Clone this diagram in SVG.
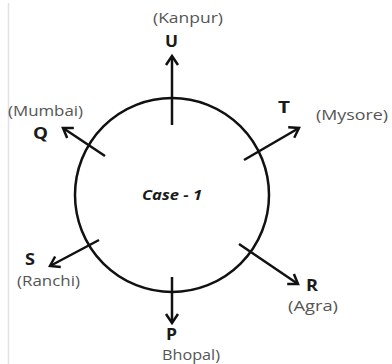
<svg xmlns="http://www.w3.org/2000/svg" width="392" height="364" viewBox="0 0 392 364">
  <style>
    .city { font-family: "Open Sans", "Liberation Sans", sans-serif; font-size: 15px; fill: #555; }
    .letter { font-family: "Open Sans", "Liberation Sans", sans-serif; font-size: 16.5px; font-weight: bold; fill: #1a1a1a; }
    .case { font-family: "Open Sans", "Liberation Sans", sans-serif; font-size: 14.5px; font-weight: bold; font-style: italic; fill: #1a1a1a; }
    .conn { stroke: #111; stroke-width: 2.5; fill: none; }
  </style>
  <defs>
    <marker id="arr" markerUnits="userSpaceOnUse" markerWidth="20" markerHeight="20" refX="0" refY="0" viewBox="-12 -10 14 20" orient="auto">
      <path d="M-9,-6 L0,0 L-9,6" fill="none" stroke="#111" stroke-width="2.5" stroke-linejoin="miter"/>
    </marker>
  </defs>
  <rect width="392" height="364" fill="#fff"/>
  <line x1="8.5" y1="3" x2="8.5" y2="364" stroke="#e2e2e2" stroke-width="1.5"/>

  <g id="circle">
    <circle cx="172" cy="195" r="97" class="conn"/>
    <text class="case" x="142" y="200" textLength="60" lengthAdjust="spacingAndGlyphs">Case - 1</text>
  </g>

  <g id="connectors">
    <line class="conn" x1="172" y1="125" x2="172" y2="56" marker-end="url(#arr)"/>
    <line class="conn" x1="105" y1="156" x2="63" y2="128" marker-end="url(#arr)"/>
    <line class="conn" x1="244" y1="160" x2="299" y2="128" marker-end="url(#arr)"/>
    <line class="conn" x1="99" y1="240" x2="50" y2="266" marker-end="url(#arr)"/>
    <line class="conn" x1="239" y1="244" x2="298" y2="284" marker-end="url(#arr)"/>
    <line class="conn" x1="172" y1="277" x2="172" y2="323" marker-end="url(#arr)"/>
  </g>

  <g id="U">
    <text class="city" x="153" y="23" textLength="70" lengthAdjust="spacingAndGlyphs">(Kanpur)</text>
    <text class="letter" x="165" y="47" textLength="13" lengthAdjust="spacingAndGlyphs">U</text>
  </g>
  <g id="Q">
    <text class="city" x="8" y="116" textLength="75" lengthAdjust="spacingAndGlyphs">(Mumbai)</text>
    <text class="letter" x="33" y="139" textLength="15" lengthAdjust="spacingAndGlyphs">Q</text>
  </g>
  <g id="T">
    <text class="letter" x="278" y="113" textLength="12" lengthAdjust="spacingAndGlyphs">T</text>
    <text class="city" x="316" y="120" textLength="72" lengthAdjust="spacingAndGlyphs">(Mysore)</text>
  </g>
  <g id="S">
    <text class="letter" x="25" y="265" textLength="10" lengthAdjust="spacingAndGlyphs">S</text>
    <text class="city" x="17" y="286" textLength="63" lengthAdjust="spacingAndGlyphs">(Ranchi)</text>
  </g>
  <g id="R">
    <text class="letter" x="306" y="291" textLength="12" lengthAdjust="spacingAndGlyphs">R</text>
    <text class="city" x="288" y="311" textLength="50" lengthAdjust="spacingAndGlyphs">(Agra)</text>
  </g>
  <g id="P">
    <text class="letter" x="166" y="340" textLength="11" lengthAdjust="spacingAndGlyphs">P</text>
    <text class="city" x="162" y="360" textLength="58" lengthAdjust="spacingAndGlyphs">Bhopal)</text>
  </g>
</svg>
